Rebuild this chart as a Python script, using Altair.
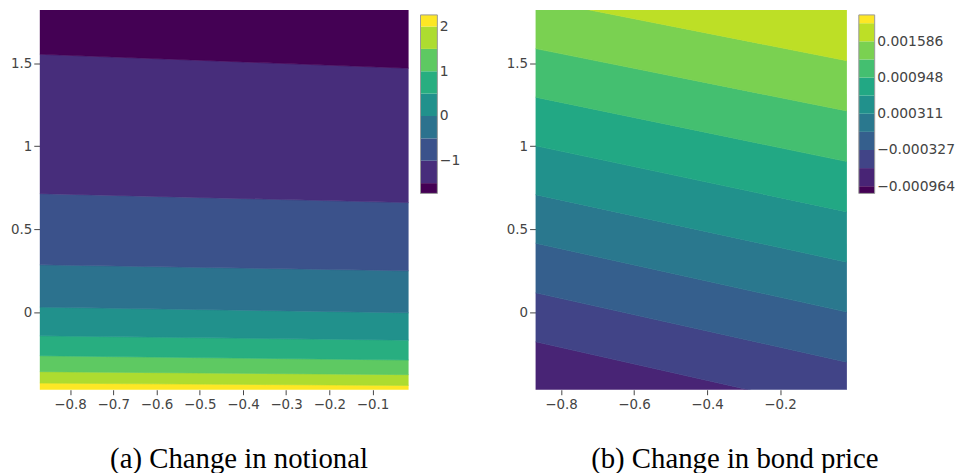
import altair as alt
import pandas as pd

# ---------------- shared axes ----------------
X_RANGE = [-0.87, -0.0167]
Y_RANGE = [-0.468, 1.821]
X_TICKS_A = [-0.8, -0.7, -0.6, -0.5, -0.4, -0.3, -0.2, -0.1]
X_TICKS_B = [-0.8, -0.6, -0.4, -0.2]
Y_TICKS = [0, 0.5, 1, 1.5]

# ---------------- panel (a): change in notional ----------------
# contour boundaries (bottom -> top), y-value at left and right plot edges
A_LEFT = [-0.428, -0.359, -0.263, -0.143, 0.030, 0.285, 0.714, 1.554]
A_RIGHT = [-0.442, -0.377, -0.289, -0.169, -0.004, 0.249, 0.660, 1.470]
# band colours bottom -> top
A_COLORS = ["#fde725", "#addc30", "#5ec962", "#28ae80", "#21918c",
            "#2c728e", "#3b528b", "#472d7b", "#440154"]
# colour bar (low -> high)
A_CBAR_EDGES = [-1.73, -1.5, -1.0, -0.5, 0.0, 0.5, 1.0, 1.5, 2.0, 2.26]
A_CBAR_TICKS = [-1, 0, 1, 2]

# ---------------- panel (b): change in bond price ----------------
B_LEFT = [-0.179, 0.116, 0.415, 0.708, 1.002, 1.295, 1.588, 1.885]
B_RIGHT = [-0.602, -0.302, 0.000, 0.301, 0.604, 0.907, 1.212, 1.515]
B_COLORS = ["#482475", "#414487", "#355f8d", "#2a788e", "#21918c",
            "#22a884", "#44bf70", "#7ad151", "#bddf26"]
B_CBAR_EDGES = [-0.001091, -0.000964, -0.000645, -0.000327, -0.000008,
                0.000311, 0.000630, 0.000948, 0.001267, 0.001586,
                0.001905, 0.002051]
B_CBAR_COLORS = ["#440154", "#482475", "#414487", "#355f8d", "#2a788e",
                 "#21918c", "#22a884", "#44bf70", "#7ad151", "#bddf26",
                 "#fde725"]
B_CBAR_TICKS = [-0.000964, -0.000327, 0.000311, 0.000948, 0.001586]

FONT = "DejaVu Sans"
FS = 13.5
TXT = "#444444"


def band_frame(prefix, left, right, colors):
    rows = []
    n = len(colors)
    for k in range(n):
        lo_l = left[k - 1] if k > 0 else Y_RANGE[0] - 1
        lo_r = right[k - 1] if k > 0 else Y_RANGE[0] - 1
        hi_l = left[k] if k < len(left) else Y_RANGE[1] + 1
        hi_r = right[k] if k < len(right) else Y_RANGE[1] + 1
        rows.append({"band": f"{prefix}{k}", "x": X_RANGE[0], "lo": lo_l, "hi": hi_l})
        rows.append({"band": f"{prefix}{k}", "x": X_RANGE[1], "lo": lo_r, "hi": hi_r})
    return pd.DataFrame(rows), [f"{prefix}{k}" for k in range(n)]


def panel(prefix, left, right, colors, xticks, width, caption, dx):
    df, dom = band_frame(prefix, left, right, colors)
    cscale = alt.Scale(domain=dom, range=colors)
    return alt.Chart(df).mark_area(clip=True, strokeWidth=0.6).encode(
        x=alt.X("x:Q", scale=alt.Scale(domain=X_RANGE, nice=False, zero=False),
                axis=alt.Axis(values=xticks, format="~g", title=None,
                              tickSize=5, labelPadding=3)),
        y=alt.Y("lo:Q", stack=None,
                scale=alt.Scale(domain=Y_RANGE, nice=False, zero=False),
                axis=alt.Axis(values=Y_TICKS, format="~g", title=None,
                              tickSize=6, labelPadding=2)),
        y2="hi:Q",
        color=alt.Color("band:N", scale=cscale, legend=None),
        stroke=alt.Stroke("band:N", scale=cscale, legend=None),
    ).properties(
        width=width, height=383,
        title=alt.TitleParams(caption, orient="bottom", anchor="middle", dx=dx,
                              offset=34, font="Liberation Serif", fontSize=29,
                              fontWeight="normal", color="black"),
    )


def colorbar(prefix, edges, colors, ticks, fmt, width, fs):
    df = pd.DataFrame({
        "lo": edges[:-1], "hi": edges[1:],
        "band": [f"{prefix}{k}" for k in range(len(colors))],
    })
    yscale = alt.Scale(domain=[edges[0], edges[-1]], range=[185, 5],
                       nice=False, zero=False)
    bars = alt.Chart(df).mark_rect().encode(
        y=alt.Y("lo:Q", scale=yscale,
                axis=alt.Axis(orient="right", values=ticks, format=fmt,
                              title=None, ticks=False, labelPadding=2,
                              labelFontSize=fs)),
        y2="hi:Q",
        color=alt.Color("band:N", scale=alt.Scale(domain=list(df["band"]), range=colors),
                        legend=None),
    )
    border = alt.Chart(pd.DataFrame({"lo": [edges[0]], "hi": [edges[-1]]})).mark_rect(
        fillOpacity=0, stroke="#999999", strokeWidth=1
    ).encode(y=alt.Y("lo:Q", scale=yscale), y2="hi:Q")
    return alt.layer(bars, border).properties(width=width, height=185)


pa = panel("a", A_LEFT, A_RIGHT, A_COLORS, X_TICKS_A, 372,
           "(a) Change in notional", 15)
ca = colorbar("ca", A_CBAR_EDGES, A_COLORS[::-1], A_CBAR_TICKS, "~g", 17, 14)
spacer = alt.Chart(pd.DataFrame({"v": [0]})).mark_point(opacity=0).encode(
    x=alt.X("v:Q", axis=None), y=alt.Y("v:Q", axis=None)
).properties(width=75, height=10)
pb = panel("b", B_LEFT, B_RIGHT, B_COLORS, X_TICKS_B, 314,
           "(b) Change in bond price", 44)
cb = colorbar("cb", B_CBAR_EDGES, B_CBAR_COLORS, B_CBAR_TICKS, ".6f", 16, 14)

chart = alt.hconcat(pa, ca, spacer, pb, cb, spacing=12, bounds="flush").resolve_scale(
    color="independent", stroke="independent", x="independent", y="independent"
).configure(
    padding={"left": 2, "top": 0, "right": 0, "bottom": 0},
    background="white",
).configure_view(stroke=None).configure_axis(
    labelFont=FONT, labelFontSize=FS, labelColor=TXT, tickColor=TXT,
    domain=False, grid=False, labelFlush=False,
)

chart.save("out.html", embed_options={"renderer": "svg", "actions": False})
